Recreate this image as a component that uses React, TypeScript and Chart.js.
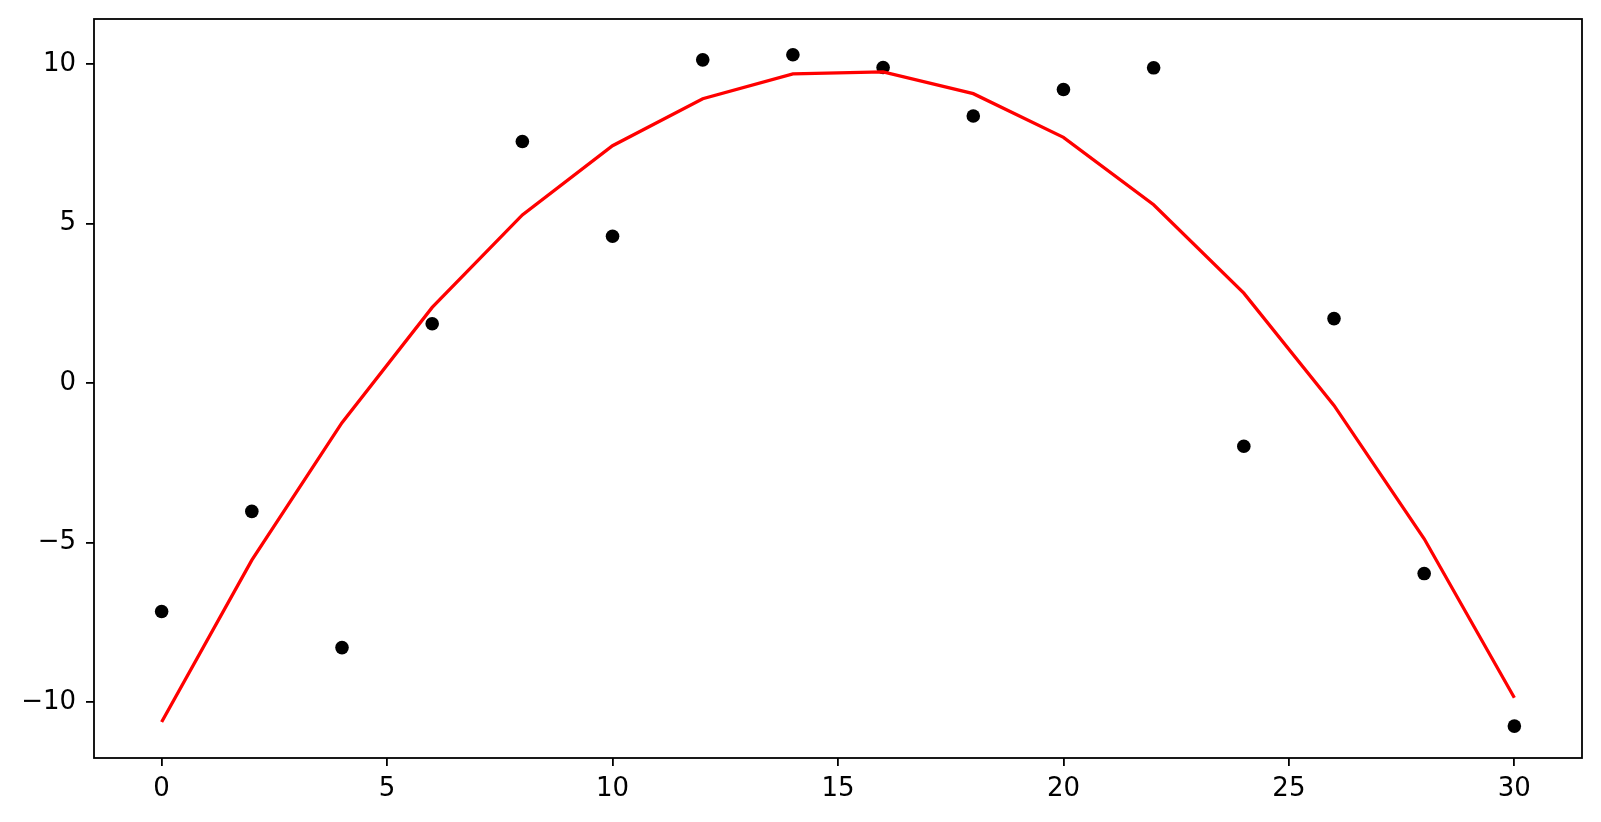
import React, { useEffect, useRef } from "react";
import { Chart, registerables } from "chart.js";

Chart.register(...registerables);

const xValues = [0, 2, 4, 6, 8, 10, 12, 14, 16, 18, 20, 22, 24, 26, 28, 30];
const observed = [-7.16, -4.02, -8.29, 1.86, 7.57, 4.6, 10.13, 10.29, 9.89, 8.37, 9.2, 9.88, -1.98, 2.02, -5.97, -10.75];
const fitted = [-10.62, -5.55, -1.24, 2.37, 5.27, 7.44, 8.91, 9.69, 9.75, 9.07, 7.7, 5.59, 2.82, -0.7, -4.88, -9.86];
const xTicks = [0, 5, 10, 15, 20, 25, 30];
const yTicks = [-10, -5, 0, 5, 10];

const FONT = { family: "'DejaVu Sans', sans-serif", size: 26 };

const boxPlugin = {
  id: "box",
  afterDraw(chart: any) {
    const { ctx, chartArea } = chart;
    ctx.save();
    ctx.strokeStyle = "#000";
    ctx.lineWidth = 1.8;
    ctx.strokeRect(chartArea.left, chartArea.top, chartArea.right - chartArea.left, chartArea.bottom - chartArea.top);
    ctx.restore();
  },
};

export default function App() {
  const ref = useRef<HTMLCanvasElement | null>(null);
  useEffect(() => {
    if (!ref.current) return;
    const chart = new Chart(ref.current, {
      type: "scatter",
      data: {
        datasets: [
          {
            label: "fit",
            data: xValues.map((x, i) => ({ x, y: fitted[i] })),
            showLine: true,
            borderColor: "#ff0000",
            borderWidth: 3.3,
            pointRadius: 0,
            pointHoverRadius: 0,
            fill: false,
            tension: 0,
          },
          {
            label: "data",
            data: xValues.map((x, i) => ({ x, y: observed[i] })),
            backgroundColor: "#000000",
            borderColor: "#000000",
            borderWidth: 0,
            pointRadius: 6.8,
          },
        ],
      },
      options: {
        responsive: false,
        animation: false,
        devicePixelRatio: 1,
        layout: { padding: { left: 0, top: 19, right: 19, bottom: 0 } },
        plugins: { legend: { display: false }, tooltip: { enabled: false } },
        scales: {
          x: {
            type: "linear",
            min: -1.5,
            max: 31.5,
            afterBuildTicks: (s: any) => {
              s.ticks = xTicks.map((v) => ({ value: v }));
            },
            afterFit: (s: any) => {
              s.height = 64;
              s.paddingLeft = 0;
              s.paddingRight = 0;
            },
            border: { display: false },
            grid: { drawOnChartArea: false, drawTicks: true, tickLength: 8, color: "#000", lineWidth: 1.8 },
            ticks: {
              color: "#000",
              font: FONT,
              padding: 8,
              maxRotation: 0,
              callback: (v: any) => String(v).replace("-", "\u2212"),
            },
          },
          y: {
            type: "linear",
            min: -11.75,
            max: 11.41,
            afterBuildTicks: (s: any) => {
              s.ticks = yTicks.map((v) => ({ value: v }));
            },
            afterFit: (s: any) => {
              s.width = 94;
              s.paddingTop = 0;
              s.paddingBottom = 0;
            },
            border: { display: false },
            grid: { drawOnChartArea: false, drawTicks: true, tickLength: 8, color: "#000", lineWidth: 1.8 },
            ticks: {
              color: "#000",
              font: FONT,
              padding: 10,
              callback: (v: any) => String(v).replace("-", "\u2212"),
            },
          },
        },
      },
      plugins: [boxPlugin],
    });
    return () => chart.destroy();
  }, []);
  return (
    <div style={{ position: "fixed", left: 0, top: 0, width: 1601, height: 822, background: "#fff" }}>
      <canvas ref={ref} width={1601} height={822} style={{ display: "block" }} />
    </div>
  );
}
